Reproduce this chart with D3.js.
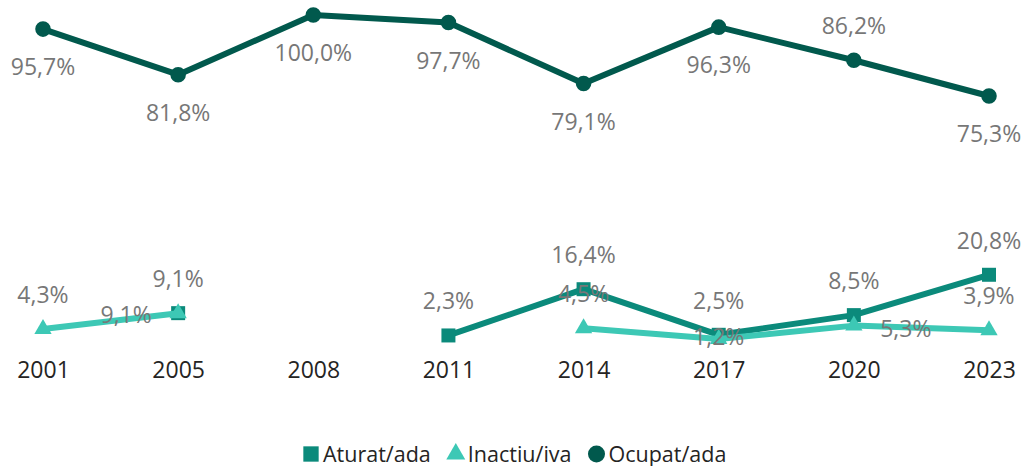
<!DOCTYPE html>
<html>
<head>
<meta charset="utf-8">
<script src="https://cdn.jsdelivr.net/npm/d3@7"></script>
<style>
  body { margin: 0; background: #fff; }
  svg text { font-family: 'Segoe UI', 'Open Sans', sans-serif; }
</style>
</head>
<body>
<svg id="chart" width="1027" height="466"></svg>
<script>
// values (null = no point that year)
const years = ['2001', '2005', '2008', '2011', '2014', '2017', '2020', '2023'];
const aturat  = [null, 9.1, null, 2.3, 16.4, 2.5, 8.5, 20.8];
const inactiu = [4.3, 9.1, null, null, 4.5, 1.2, 5.3, 3.9];
const ocupat  = [95.7, 81.8, 100.0, 97.7, 79.1, 96.3, 86.2, 75.3];

// where each data label sits relative to its point
const aturatLabelPos  = ['t', 't', 't', 't', 't', 't', 't', 't'];
const inactiuLabelPos = ['t', 'l', 't', 't', 't', 'c', 'r', 't'];
const ocupatLabelPos  = ['b', 'b', 'b', 'b', 'b', 'b', 't', 'b'];

const series = [
    { name: 'Aturat/ada',  values: aturat,  color: '#0b8a7b', shape: d3.symbolSquare,   size: 196, labels: aturatLabelPos },
    { name: 'Inactiu/iva', values: inactiu, color: '#3dc8b5', shape: d3.symbolTriangle, size: 130, labels: inactiuLabelPos },
    { name: 'Ocupat/ada',  values: ocupat,  color: '#01594d', shape: d3.symbolCircle,   size: 190, labels: ocupatLabelPos }
];

const svg = d3.select('#chart');

const x = d3.scalePoint()
    .domain(years)
    .range([43, 989]);
const y = d3.scaleLinear()
    .domain([0, 100])
    .range([343, 15]);

const fmt = v => v.toFixed(1).replace('.', ',') + '%';

// x axis, labels only
const xAxis = d3.axisBottom(x).tickSize(0).tickPadding(0);
const gx = svg.append('g')
    .attr('transform', 'translate(0,378)')
    .call(xAxis);
gx.select('.domain').remove();
gx.selectAll('text')
    .attr('fill', '#252423')
    .attr('font-size', 23)
    .attr('dy', '0')
    .style('font-family', "'Segoe UI', 'Open Sans', sans-serif");

// lines (draw order: Ocupat, Aturat, Inactiu)
const drawOrder = [series[2], series[0], series[1]];
const line = d3.line()
    .defined(d => d.v != null)
    .x(d => x(d.year))
    .y(d => y(d.v));

drawOrder.forEach(s => {
    const pts = years.map((yr, i) => ({ year: yr, v: s.values[i], pos: s.labels[i] }));
    const g = svg.append('g');

    g.append('path')
        .datum(pts)
        .attr('d', line)
        .attr('fill', 'none')
        .attr('stroke', s.color)
        .attr('stroke-width', 6)
        .attr('stroke-linejoin', 'round');

    g.selectAll('.mk')
        .data(pts.filter(d => d.v != null))
        .enter()
        .append('path')
        .attr('transform', d => `translate(${x(d.year)},${y(d.v)})`)
        .attr('d', d3.symbol().type(s.shape).size(s.size))
        .attr('fill', s.color);
    s.pts = pts;
});

// data labels on top of everything
const offs = { t: [0, -35], b: [0, 37], l: [-52, 1], r: [52, 2], c: [0, -3] };
series.forEach(s => {
    svg.append('g').selectAll('text')
        .data(s.pts.filter(d => d.v != null))
        .enter()
        .append('text')
        .attr('x', d => x(d.year) + offs[d.pos][0])
        .attr('y', d => y(d.v) + offs[d.pos][1])
        .attr('text-anchor', 'middle')
        .attr('dominant-baseline', 'central')
        .attr('font-size', 23)
        .attr('fill', '#777')
        .text(d => fmt(d.v));
});

// legend
const legend = svg.append('g').attr('transform', 'translate(0,453)');
let lx = 302;
series.forEach(s => {
    const item = legend.append('g').attr('transform', `translate(${lx},0)`);
    item.append('path')
        .attr('transform', 'translate(9,1)')
        .attr('d', d3.symbol().type(s.shape).size(s.size * 1.2))
        .attr('fill', s.color);
    const t = item.append('text')
        .attr('x', 21)
        .attr('dominant-baseline', 'central')
        .attr('font-size', 21.5)
        .attr('fill', '#252423')
        .text(s.name);
    lx += 21 + t.node().getComputedTextLength() + 16;
});
</script>
</body>
</html>
